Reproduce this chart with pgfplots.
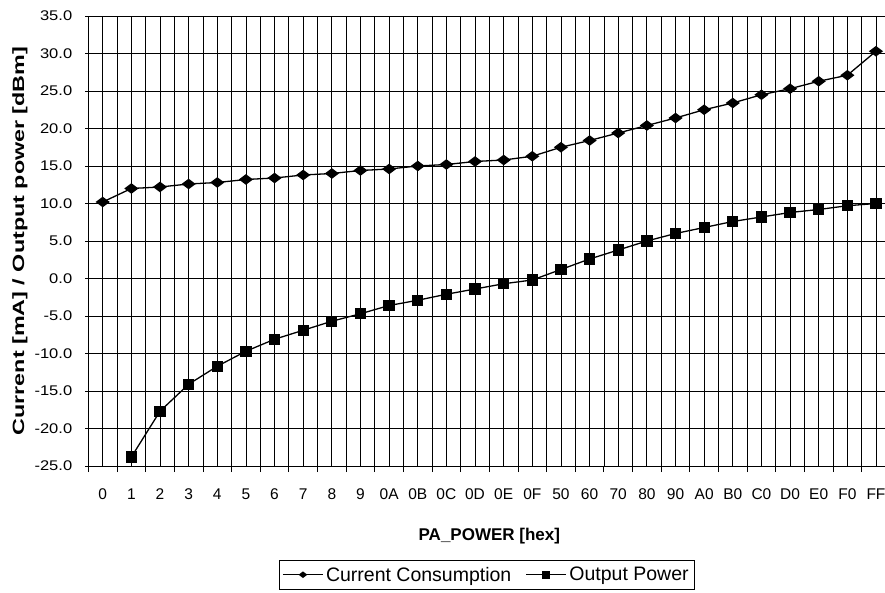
\documentclass[border=0pt]{standalone}
\usepackage{pgfplots}
\pgfplotsset{compat=1.18}
\usepackage{fontspec}
\setmainfont{Liberation Sans}
\newcommand{\ys}[1]{\scalebox{1.18}[1]{#1}}
\begin{document}
\begin{tikzpicture}
\useasboundingbox (0,0) rectangle (885bp,593bp);
\begin{axis}[
  scale only axis,
  width=801.9bp, height=450bp,
  at={(88.4bp,127bp)}, anchor=south west,
  xmin=-0.5, xmax=27.5,
  ymin=-25, ymax=35,
  axis x line*=bottom, axis y line*=left,
  axis line style={line width=0.9bp, black, -},
  xtick={-0.5,0.5,...,27.5},
  x tick label as interval,
  xticklabels={0,1,2,3,4,5,6,7,8,9,0A,0B,0C,0D,0E,0F,50,60,70,80,90,A0,B0,C0,D0,E0,F0,FF},
  minor xtick={0,1,...,27},
  ytick={-25,-20,...,35},
  yticklabels={\ys{-25.0},\ys{-20.0},\ys{-15.0},\ys{-10.0},\ys{-5.0},\ys{0.0},\ys{5.0},\ys{10.0},\ys{15.0},\ys{20.0},\ys{25.0},\ys{30.0},\ys{35.0}},
  grid=both,
  major grid style={line width=0.8bp, black},
  minor grid style={line width=0.8bp, black},
  major tick length=6bp,
  minor tick length=0pt,
  xtick align=outside,
  ytick align=center,
  tick style={line width=0.9bp, black},
  xticklabel style={font=\fontsize{15.5bp}{17bp}\selectfont, anchor=base, inner sep=0pt, yshift=-27bp},
  yticklabel style={font=\fontsize{14bp}{16bp}\selectfont, anchor=east, inner sep=0pt, xshift=-13bp},
  xlabel={PA\_POWER [hex]},
  xlabel style={font=\bfseries\fontsize{17bp}{19bp}\selectfont, at={(axis description cs:0.5,-0.1556)}, anchor=center},
  ylabel={\scalebox{1.43}[1]{Current [mA] / Output power [dBm]}},
  ylabel style={font=\bfseries\fontsize{16.3bp}{18bp}\selectfont, at={(axis description cs:-0.0853,0.5)}, anchor=center},
  legend columns=2,
  legend style={
    at={(0.2377,-0.2089)}, anchor=north west,
    draw=black, line width=0.8bp,
    font=\fontsize{19.5bp}{23bp}\selectfont,
    inner xsep=3bp, inner ysep=4bp,
    nodes={inner sep=2.5bp},
    /tikz/every even column/.append style={column sep=12bp},
  },
  legend image code/.code={
    \draw[#1, line width=1.1bp] (0bp,0bp) -- (40bp,0bp);
    \draw[#1, only marks, mark size=3.3bp] plot coordinates {(20bp,0bp)};
  },
]
\addplot[black, line width=1.3bp, mark=diamond*, mark size=6bp, mark options={rotate=90, solid}] coordinates {
(0,10.2) (1,12.0) (2,12.2) (3,12.6) (4,12.8) (5,13.2) (6,13.4) (7,13.8)
(8,14.0) (9,14.4) (10,14.6) (11,15.0) (12,15.2) (13,15.6) (14,15.8) (15,16.3)
(16,17.5) (17,18.4) (18,19.4) (19,20.4) (20,21.4) (21,22.5) (22,23.4) (23,24.5)
(24,25.3) (25,26.3) (26,27.1) (27,30.3)
};
\addlegendentry{Current Consumption}
\addplot[black, line width=1.3bp, mark=square*, mark size=5bp, mark options={solid}] coordinates {
(1,-23.8) (2,-17.7) (3,-14.1) (4,-11.7) (5,-9.7) (6,-8.1) (7,-6.9)
(8,-5.7) (9,-4.7) (10,-3.6) (11,-2.9) (12,-2.1) (13,-1.4) (14,-0.7) (15,-0.2)
(16,1.2) (17,2.6) (18,3.8) (19,5.0) (20,6.0) (21,6.8) (22,7.6) (23,8.2)
(24,8.8) (25,9.2) (26,9.7) (27,10.0)
};
\addlegendentry{Output Power}
\end{axis}
\end{tikzpicture}
\end{document}
